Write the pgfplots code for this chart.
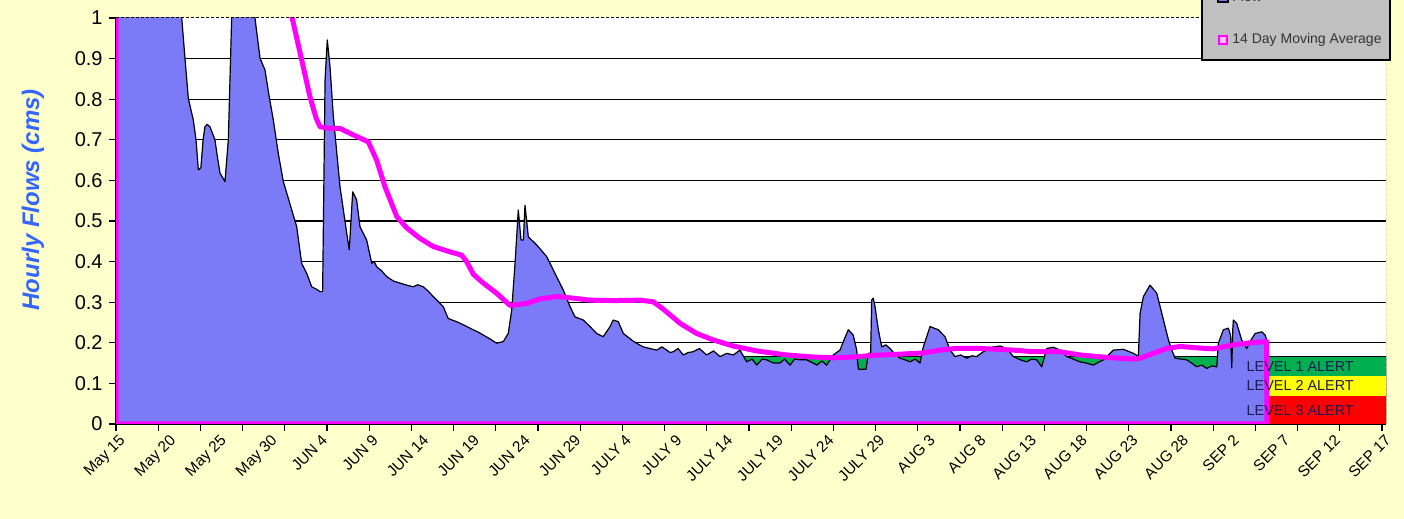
\documentclass[border=0pt]{standalone}
\usepackage{pgfplots}
\pgfplotsset{compat=1.18}
\usepackage{fontspec}
\setmainfont{Liberation Sans}
\definecolor{bgyel}{RGB}{255,255,204}
\definecolor{flowblue}{RGB}{123,123,247}
\definecolor{algreen}{RGB}{0,176,80}
\definecolor{alyel}{RGB}{255,255,0}
\definecolor{alred}{RGB}{255,0,0}
\definecolor{mag}{RGB}{255,0,255}
\definecolor{ylab}{RGB}{51,102,255}
\definecolor{legray}{RGB}{192,192,192}
\definecolor{navytext}{RGB}{26,26,80}
\begin{document}
\begin{tikzpicture}[x=1pt,y=1pt]
\fill[bgyel] (0,0) rectangle (702,259.5);
\begin{axis}[
  at={(58pt,47.5pt)}, anchor=south west,
  width=635pt, height=203pt, scale only axis,
  xmin=0, xmax=125.39, ymin=0, ymax=1,
  axis lines*=left,
  axis line style={black, line width=0.6pt},
  axis background/.style={fill=white},
  tick align=outside,
  /pgf/number format/assume math mode=true,
  ytick={0,0.1,0.2,0.3,0.4,0.5,0.6,0.7,0.8,0.9},
  extra y ticks={1},
  extra y tick style={grid=none},
  minor ytick={0,0.1,0.2,0.3,0.4,0.5,0.6,0.7,0.8,0.9,1},
  ymajorgrids,
  grid style={black, line width=0.6pt},
  major tick length=0pt,
  minor tick length=3.5pt,
  tick style={black, line width=0.6pt},
  yticklabel style={font=\fontsize{10}{12}\selectfont, inner sep=1pt, xshift=-5.5pt},
  xtick={0,5,...,125},
  xticklabels={May 15,May 20,May 25,May 30,JUN 4,JUN 9,JUN 14,JUN 19,JUN 24,JUN 29,JULY 4,JULY 9,JULY 14,JULY 19,JULY 24,JULY 29,AUG 3,AUG 8,AUG 13,AUG 18,AUG 23,AUG 28,SEP 2,SEP 7,SEP 12,SEP 17},
  minor xtick={0,4.1666667,...,125.2},
  xticklabel style={rotate=45, anchor=north east, inner sep=0.5pt, yshift=-3.5pt, xshift=-2pt, font=\fontsize{7.7}{9}\selectfont},
  ylabel={\bfseries\itshape Hourly Flows (cms)},
  ylabel style={at={(rel axis cs:-0.0654,0.552)}, anchor=center, color=ylab, font=\fontsize{12}{14}\selectfont},
]
% alert levels
\addplot[fill=algreen, draw=black, line width=0.5pt] coordinates {(0,0.166) (125.39,0.166)} \closedcycle;
\addplot[fill=alyel, draw=none] coordinates {(0,0.118) (125.39,0.118)} \closedcycle;
\addplot[fill=alred, draw=none] coordinates {(0,0.069) (125.39,0.069)} \closedcycle;
% flow
\addplot[fill=flowblue, draw=black, line width=0.6pt, line join=round] coordinates {
(0,1.3) (6.2,1.08) (6.49,1.0) (6.81,0.901) (7.14,0.802) (7.63,0.749) (7.90,0.700) (8.13,0.626) (8.38,0.631) (8.6,0.70) (8.78,0.732) (9.0,0.738) (9.28,0.732) (9.77,0.700) (10.0,0.66) (10.27,0.618) (10.76,0.597) (11.09,0.700) (11.42,1.0) (11.6,1.2) (13.4,1.1) (13.72,1.0) (14.22,0.901) (14.71,0.872) (15.1,0.81) (15.53,0.749) (16.02,0.667) (16.52,0.597) (17.2,0.54) (17.84,0.486) (18.33,0.396) (18.83,0.371) (19.32,0.338) (19.8,0.332) (20.14,0.326) (20.40,0.326) (20.64,0.847) (20.86,0.946) (21.13,0.880) (21.46,0.757) (22.12,0.584) (22.78,0.470) (23.03,0.429) (23.37,0.572) (23.76,0.552) (24.09,0.486) (24.75,0.453) (25.25,0.396) (25.5,0.40) (25.74,0.387) (26.2,0.378) (26.73,0.363) (27.4,0.352) (28.04,0.347) (28.7,0.342) (29.35,0.338) (29.8,0.343) (30.33,0.338) (30.8,0.328) (31.32,0.314) (31.8,0.302) (32.31,0.289) (32.80,0.260) (33.2,0.256) (33.63,0.252) (34.4,0.243) (35.27,0.232) (35.8,0.226) (36.26,0.219) (36.9,0.21) (37.58,0.199) (38.24,0.203) (38.73,0.223) (39.07,0.281) (39.40,0.396) (39.72,0.527) (39.99,0.453) (40.22,0.453) (40.38,0.539) (40.71,0.461) (41.54,0.441) (42.53,0.412) (43.34,0.371) (44.16,0.330) (44.83,0.289) (45.32,0.264) (46.14,0.256) (46.80,0.240) (47.46,0.223) (48.10,0.215) (48.78,0.240) (49.09,0.256) (49.59,0.252) (50.09,0.223) (51.07,0.204) (51.6,0.196) (52.06,0.190) (52.7,0.186) (53.38,0.182) (53.9,0.19) (54.37,0.182) (54.7,0.176) (55.02,0.178) (55.5,0.186) (56.00,0.170) (56.5,0.176) (56.99,0.178) (57.6,0.186) (58.31,0.170) (59.0,0.18) (59.64,0.166) (60.3,0.174) (60.95,0.170) (61.61,0.182) (62.27,0.153) (62.8,0.16) (63.26,0.145) (63.8,0.16) (64.25,0.158) (64.9,0.15) (65.56,0.150) (66.0,0.16) (66.55,0.145) (67.0,0.16) (67.54,0.158) (68.19,0.158) (68.84,0.150) (69.18,0.145) (69.7,0.155) (70.16,0.145) (70.82,0.170) (71.48,0.182) (71.81,0.203) (72.30,0.232) (72.79,0.219) (73.13,0.182) (73.29,0.135) (74.05,0.135) (74.28,0.174) (74.51,0.174) (74.61,0.305) (74.77,0.310) (74.94,0.289) (75.27,0.232) (75.60,0.190) (76.0,0.195) (76.42,0.186) (76.9,0.172) (77.41,0.162) (77.9,0.158) (78.40,0.153) (78.9,0.16) (79.38,0.150) (79.71,0.190) (80.37,0.240) (81.19,0.232) (81.85,0.215) (82.35,0.182) (82.84,0.166) (83.4,0.17) (84.00,0.162) (84.5,0.168) (84.97,0.166) (85.63,0.178) (86.62,0.190) (87.3,0.192) (87.94,0.186) (88.60,0.166) (89.3,0.158) (89.91,0.153) (90.4,0.16) (90.90,0.158) (91.40,0.141) (91.89,0.186) (92.55,0.189) (93.21,0.182) (93.87,0.166) (94.5,0.16) (95.18,0.153) (95.8,0.15) (96.50,0.145) (97.0,0.152) (97.49,0.158) (98.48,0.182) (99.46,0.184) (100.45,0.174) (100.94,0.167) (101.11,0.273) (101.44,0.314) (102.09,0.342) (102.76,0.322) (103.25,0.273) (103.91,0.207) (104.24,0.182) (104.57,0.162) (105.72,0.158) (106.2,0.15) (106.69,0.141) (107.2,0.145) (107.69,0.137) (108.2,0.143) (108.68,0.141) (108.84,0.199) (109.33,0.232) (109.82,0.236) (110.04,0.219) (110.16,0.138) (110.26,0.232) (110.32,0.256) (110.65,0.248) (111.14,0.207) (111.64,0.186) (111.97,0.203) (112.47,0.223) (113.12,0.227) (113.46,0.219) (113.61,0.207) (113.62,0)
} \closedcycle;
% 14 day moving average
\addplot[draw=mag, line width=2.5pt, line join=round] coordinates {
(0,1.4) (16.8,1.07) (17.44,0.995) (18.33,0.897) (19.15,0.806) (19.75,0.754) (20.14,0.732) (21.13,0.728) (22.12,0.728) (23.43,0.712) (24.91,0.695) (25.73,0.650) (26.56,0.584) (27.72,0.511) (28.70,0.483) (30.02,0.457) (31.33,0.437) (32.98,0.424) (34.12,0.416) (34.62,0.400) (35.27,0.369) (36.26,0.347) (37.58,0.322) (38.90,0.292) (40.55,0.297) (41.86,0.308) (43.51,0.314) (45.14,0.310) (46.80,0.305) (49.09,0.304) (51.74,0.305) (53.04,0.301) (54.03,0.283) (55.69,0.248) (57.33,0.223) (58.97,0.207) (60.94,0.192) (63.25,0.180) (66.21,0.170) (68.84,0.165) (70.82,0.163) (72.80,0.165) (74.77,0.169) (77.41,0.172) (79.71,0.175) (81.36,0.182) (82.84,0.186) (85.31,0.186) (88.60,0.182) (90.57,0.178) (93.21,0.178) (95.18,0.170) (97.81,0.164) (100.45,0.160) (101.11,0.162) (102.43,0.174) (103.74,0.186) (105.06,0.191) (107.03,0.187) (108.35,0.185) (110.32,0.195) (111.97,0.200) (113.61,0.203) (113.62,0)
} \closedcycle;
% alert labels
\node[anchor=west, inner sep=0pt, text=navytext, font=\fontsize{7.2}{8}\selectfont] at (axis cs:111.6,0.141) {LEVEL 1 ALERT};
\node[anchor=west, inner sep=0pt, text=navytext, font=\fontsize{7.2}{8}\selectfont] at (axis cs:111.6,0.096) {LEVEL 2 ALERT};
\node[anchor=west, inner sep=0pt, text=navytext, font=\fontsize{7.2}{8}\selectfont] at (axis cs:111.6,0.034) {LEVEL 3 ALERT};
% plot area border top and right
\draw[black, line width=0.5pt, dash pattern=on 1.5pt off 1pt] (rel axis cs:0,1) -- (rel axis cs:1,1) -- (rel axis cs:1,0);
\draw[black, line width=0.5pt] (axis cs:125.39,0) -- (axis cs:125.39,0.166);
\end{axis}
% legend
\fill[legray] (601,229.5) rectangle (695,275);
\draw[black, line width=0.8pt] (601,229.5) rectangle (695,275);
\draw[black, line width=0.6pt, fill=flowblue] (609,258.5) rectangle (614,263.5);
\node[anchor=west, inner sep=0pt, font=\fontsize{7}{8}\selectfont, text=black!80] at (616,261) {Flow};
\draw[mag, line width=1.2pt, fill=mag!25] (609.5,237.5) rectangle (613.5,241.5);
\node[anchor=west, inner sep=0pt, font=\fontsize{7}{8}\selectfont, text=black!80] at (616,239.5) {14 Day Moving Average};
\pgfresetboundingbox
\path[use as bounding box] (0,0) rectangle (702,259.5);
\end{tikzpicture}
\end{document}
